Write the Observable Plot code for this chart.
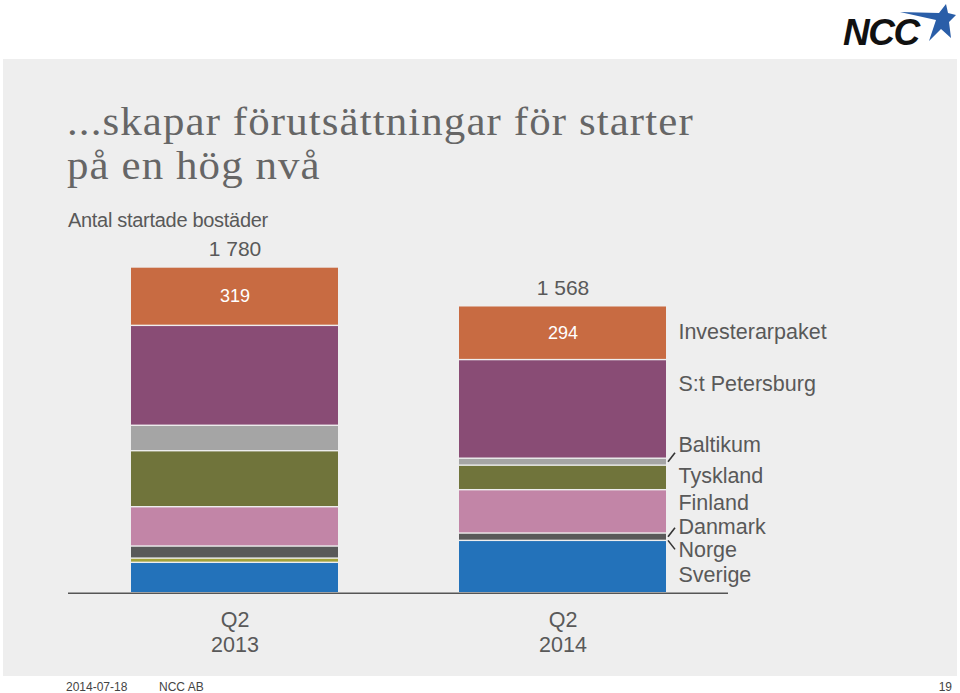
<!DOCTYPE html>
<html>
<head>
<meta charset="utf-8">
<script src="https://cdn.jsdelivr.net/npm/d3@7"></script>
<script src="https://cdn.jsdelivr.net/npm/@observablehq/plot@0.6"></script>
<style>
  html, body { margin: 0; padding: 0; background: #ffffff; }
  body { width: 960px; height: 693px; position: relative; overflow: hidden; font-family: "Liberation Sans", Arial, sans-serif; }
  #panel { position: absolute; left: 3px; top: 59px; width: 954px; height: 617px; background: #eeeeee; }
  .title-line { position: absolute; left: 67px; height: 39px; font-family: "Liberation Serif", "Times New Roman", serif; font-size: 39px; line-height: 39px; color: #666666; letter-spacing: 1px; white-space: nowrap; transform: scaleX(1.1); transform-origin: 0 0; }
  #title1 { top: 102px; }
  #title2 { top: 146px; }
  #subtitle { position: absolute; left: 68px; top: 210px; font-size: 20px; line-height: 20px; color: #595959; letter-spacing: -0.3px; }
  #chart { position: absolute; left: 0; top: 230px; }
  #logo-text { position: absolute; left: 843px; top: 14px; font-family: "Liberation Sans", Arial, sans-serif; font-weight: bold; font-style: italic; font-size: 37px; line-height: 37px; color: #111; letter-spacing: -1.5px; }
  #logo-star { position: absolute; left: 896px; top: 2px; }
  #footer-date { position: absolute; left: 66px; top: 681px; font-size: 12px; line-height: 13px; color: #444; }
  #footer-co { position: absolute; left: 159px; top: 681px; font-size: 12px; line-height: 13px; color: #444; }
  #footer-page { position: absolute; right: 8px; top: 681px; font-size: 12px; line-height: 13px; color: #444; }
</style>
</head>
<body>
<div id="panel"></div>
<svg id="logo-star" width="62" height="42" viewBox="0 0 62 42"><polygon points="50,2 52,11 60,13 53,20 55,36 45,27 33,39 40,18 4,10 43,11" fill="#2a5ea8"/></svg>
<div id="logo-text">NCC</div>
<div id="title1" class="title-line">...skapar förutsättningar för starter</div>
<div id="title2" class="title-line">på en hög nvå</div>
<div id="subtitle">Antal startade bostäder</div>
<div id="chart"></div>
<div id="footer-date">2014-07-18</div>
<div id="footer-co">NCC AB</div>
<div id="footer-page">19</div>
<script>
// ---- data ----
const categories = ["Q2 2013", "Q2 2014"];
const seriesNames = ["Sverige", "Norge", "Danmark", "Finland", "Tyskland", "Baltikum", "S:t Petersburg", "Investerarpaket"];
const values2013 = [166, 23, 66, 215, 306, 139, 546, 319];
const values2014 = [286, 0, 40, 237, 134, 38, 539, 294];
const totalLabels = ["1 780", "1 568"];
const insideLabelSeries = "Investerarpaket";

// ---- styling ----
const seriesColors = ["#2372ba", "#a3a23a", "#595959", "#c285a7", "#70743b", "#a5a5a5", "#894c75", "#c86b42"];
const labelNudge = { "Sverige": 8, "Norge": 9, "Danmark": -10, "Finland": -9, "Tyskland": -2, "Baltikum": -17, "S:t Petersburg": -25, "Investerarpaket": -1 };
const leaderSeries = ["Baltikum", "Danmark", "Norge"];
const textColor = "#595959";

// ---- derived rows (stacked) ----
const valuesByCategory = [values2013, values2014];
const rows = [];
const totals = [];
categories.forEach((q, ci) => {
  let cum = 0;
  seriesNames.forEach((s, si) => {
    const v = valuesByCategory[ci][si];
    rows.push({ quarter: q, series: s, value: v, y1: cum, y2: cum + v, mid: cum + v / 2 });
    cum += v;
  });
  totals.push({ quarter: q, total: cum, label: totalLabels[ci] });
});

const lastCat = categories[categories.length - 1];
const lastRows = rows.filter(d => d.quarter === lastCat);

const W = 960, H = 440;
const paddingInner = 0.37, paddingOuter = 0.19;
const marginLeft = 68, marginRight = 232;
const bwApprox = (W - marginLeft - marginRight) / (categories.length - paddingInner + 2 * paddingOuter) * (1 - paddingInner);

const legendMarks = lastRows.map(r => Plot.text([r], {
  x: "quarter", y: "mid", text: "series", textAnchor: "start",
  dx: bwApprox / 2 + 12, dy: labelNudge[r.series], fontSize: 21.5, fill: textColor
}));

function leaders(index, scales) {
  const g = d3.create("svg:g").attr("stroke", "#333").attr("stroke-width", 1.6).attr("fill", "none");
  const bw = scales.x.bandwidth ? scales.x.bandwidth() : bwApprox;
  const xe = scales.x(lastCat) + bw;
  lastRows.filter(r => leaderSeries.includes(r.series)).forEach(r => {
    const y = scales.y(r.mid);
    const n = labelNudge[r.series];
    g.append("line").attr("x1", xe + 2).attr("y1", y).attr("x2", xe + 9).attr("y2", y + Math.sign(n) * 9);
  });
  return g.node();
}

const chart = Plot.plot({
  width: W, height: H,
  marginLeft, marginRight, marginTop: 37, marginBottom: 77.3,
  style: { background: "transparent", fontFamily: "Liberation Sans, Arial, sans-serif", overflow: "visible" },
  x: { domain: categories, paddingInner, paddingOuter, axis: null },
  y: { domain: [0, 1780], axis: null },
  color: { domain: seriesNames, range: seriesColors },
  marks: [
    Plot.barY(rows.filter(d => d.value > 0), { x: "quarter", y1: "y1", y2: "y2", fill: "series", insetTop: 0.7, insetBottom: 0.7 }),
    Plot.ruleY([0], { stroke: "#555", strokeWidth: 1.6 }),
    Plot.axisX({ tickSize: 0, tickPadding: 16, fontSize: 21.5, lineHeight: 1.17, tickFormat: d => d.replace(" ", "\n"), label: null, color: textColor }),
    Plot.text(rows.filter(d => d.series === insideLabelSeries), { x: "quarter", y: "mid", text: d => String(d.value), fill: "white", fontSize: 18 }),
    Plot.text(totals, { x: "quarter", y: "total", text: "label", dy: -18, fill: textColor, fontSize: 21 }),
    ...legendMarks,
    leaders
  ]
});
document.getElementById("chart").appendChild(chart);
</script>
</body>
</html>
